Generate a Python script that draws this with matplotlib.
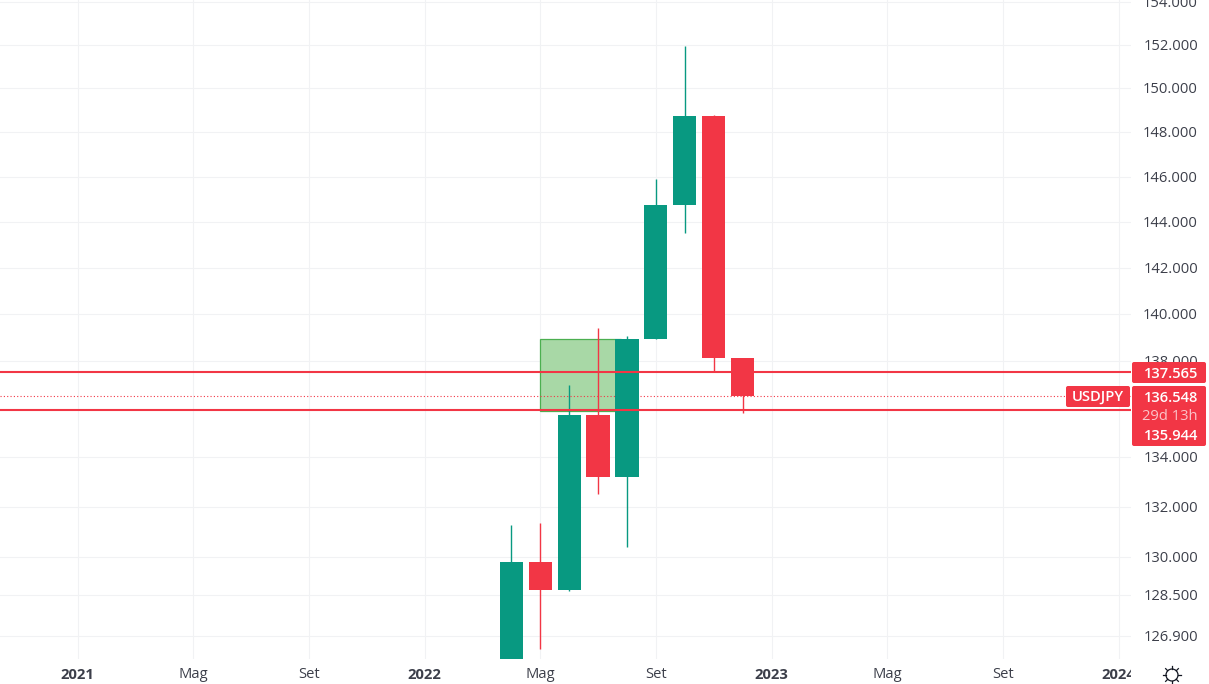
"""USDJPY monthly candles with a marked zone."""

import numpy as np
import matplotlib
matplotlib.use("Agg")
import matplotlib.pyplot as plt
from matplotlib.patches import FancyBboxPatch, Rectangle, Circle

plt.rcParams["font.family"] = ["Open Sans", "DejaVu Sans"]

GREEN = "#089981"
RED = "#f23645"
GRID = "#f1f2f4"
TEXT = "#3c3f4a"

# months counted from Jan 2021
months = [15, 16, 17, 18, 19, 20, 21, 22, 23]
opens = [121.70, 129.80, 128.69, 135.76, 133.21, 138.94, 144.75, 148.74, 138.14]
highs = [131.27, 131.35, 137.00, 139.41, 139.07, 145.90, 151.95, 148.80, 138.14]
lows = [121.30, 126.39, 128.65, 132.52, 130.39, 138.94, 143.52, 137.60, 135.84]
closes = [129.80, 128.69, 135.76, 133.21, 138.94, 144.75, 148.74, 138.14, 136.55]

price_ticks = [126.9, 128.5, 130, 132, 134, 138, 140, 142, 144, 146, 148, 150, 152, 154]
time_ticks = [0, 4, 8, 12, 16, 20, 24, 28, 32, 36]
time_labels = ["2021", "Mag", "Set", "2022", "Mag", "Set", "2023", "Mag", "Set", "2024"]
year_labels = ["2021", "2022", "2023", "2024"]

zone_top = 138.94
zone_bottom = 135.90
level_upper = 137.565
level_lower = 135.944
last_price = 136.548

W, H = 1209, 684
PLOT_W, PLOT_H = 1131, 659

fig = plt.figure(figsize=(W / 100, H / 100), dpi=100, facecolor="white")
ax = fig.add_axes([0, 1 - PLOT_H / H, PLOT_W / W, PLOT_H / H])
ax.set_yscale("log")
ax.set_xlim(-2.68, 36.43)
ax.set_ylim(126.0, 154.1)
for s in ax.spines.values():
    s.set_visible(False)
ax.yaxis.set_minor_locator(matplotlib.ticker.NullLocator())
ax.set_yticks(price_ticks)
ax.set_yticklabels([])
ax.set_xticks(time_ticks)
ax.set_xticklabels([])
ax.tick_params(length=0)
ax.grid(color=GRID, lw=0.8)
ax.set_axisbelow(True)

# marked zone, sits under the candles and runs into the Aug body
ax.add_patch(Rectangle((16, zone_bottom), 2.8, zone_top - zone_bottom,
                       facecolor="#a8d8a6", edgecolor="#4caf50", lw=0.9, zorder=1.5))

for m, o, h, l, c in zip(months, opens, highs, lows, closes):
    col = GREEN if c >= o else RED
    ax.vlines(m, l, h, color=col, lw=1.0, zorder=2)
    ax.bar(m, abs(c - o), bottom=min(o, c), width=0.8, color=col, lw=0, zorder=3)

ax.axhline(level_upper, color=RED, lw=1.5, zorder=4)
ax.axhline(level_lower, color=RED, lw=1.5, zorder=4)
ax.axhline(last_price, color=RED, lw=0.8, ls=(0, (1, 2)), zorder=2.5)

# price scale on the right, covers the clipped 2024 label
ax_price = fig.add_axes([PLOT_W / W, 1 - PLOT_H / H, (W - PLOT_W) / W, PLOT_H / H], zorder=3)
ax_price.set_yscale("log")
ax_price.set_ylim(ax.get_ylim())
ax_price.set_xlim(PLOT_W, W)
ax_price.axis("off")
for p in price_ticks:
    ax_price.annotate(f"{p:.3f}", (1198, p), xytext=(0, -1), textcoords="offset points",
                      ha="right", va="center", fontsize=10.6, color=TEXT)

# time labels
ax_time = fig.add_axes([0, 0, 1, 1], zorder=2)
ax_time.set_xlim(*ax.get_xlim())
ax_time.set_position([0, 0, PLOT_W / W, (H - PLOT_H) / H])
ax_time.set_ylim(0, 1)
ax_time.axis("off")
for t, lab in zip(time_ticks, time_labels):
    bold = lab in year_labels
    txt = ax_time.text(t, 0.36, lab, ha="center", va="center", fontsize=10.6,
                       color=TEXT, fontweight="bold" if bold else "normal")
    txt.set_clip_on(True)

# overlay in pixel coordinates for the labels
ov = fig.add_axes([0, 0, 1, 1], zorder=5)
ov.set_xlim(0, W)
ov.set_ylim(H, 0)
ov.axis("off")


def label_box(x0, y0, x1, y1):
    ov.add_patch(FancyBboxPatch((x0 + 2, y0 + 2), x1 - x0 - 4, y1 - y0 - 4,
                                boxstyle="round,pad=2,rounding_size=2",
                                facecolor=RED, edgecolor="none"))


label_box(1132, 362, 1206, 383)
label_box(1132, 386, 1206, 446)
label_box(1066, 386, 1130, 407)
ov.text(1198, 373.5, f"{level_upper:.3f}", ha="right", va="center", fontsize=10.6,
        color="white", fontweight="semibold")
ov.text(1198, 397.5, f"{last_price:.3f}", ha="right", va="center", fontsize=10.6,
        color="white", fontweight="semibold")
ov.text(1198, 416, "29d 13h", ha="right", va="center", fontsize=10.6, color="#fbc4c9")
ov.text(1198, 436, f"{level_lower:.3f}", ha="right", va="center", fontsize=10.6,
        color="white", fontweight="semibold")
ov.text(1098, 397.5, "USDJPY", ha="center", va="center", fontsize=10.6,
        color="white", fontweight="semibold")

# settings icon in the corner
ov.add_patch(Circle((1172, 675), 6, facecolor="none", edgecolor="#131722", lw=0.9))
for a in np.arange(0, 2 * np.pi, np.pi / 4):
    ov.plot([1172 + 6 * np.cos(a), 1172 + 9 * np.cos(a)],
            [675 + 6 * np.sin(a), 675 + 9 * np.sin(a)], color="#131722", lw=0.9)

fig.savefig("out.png", dpi=100)
